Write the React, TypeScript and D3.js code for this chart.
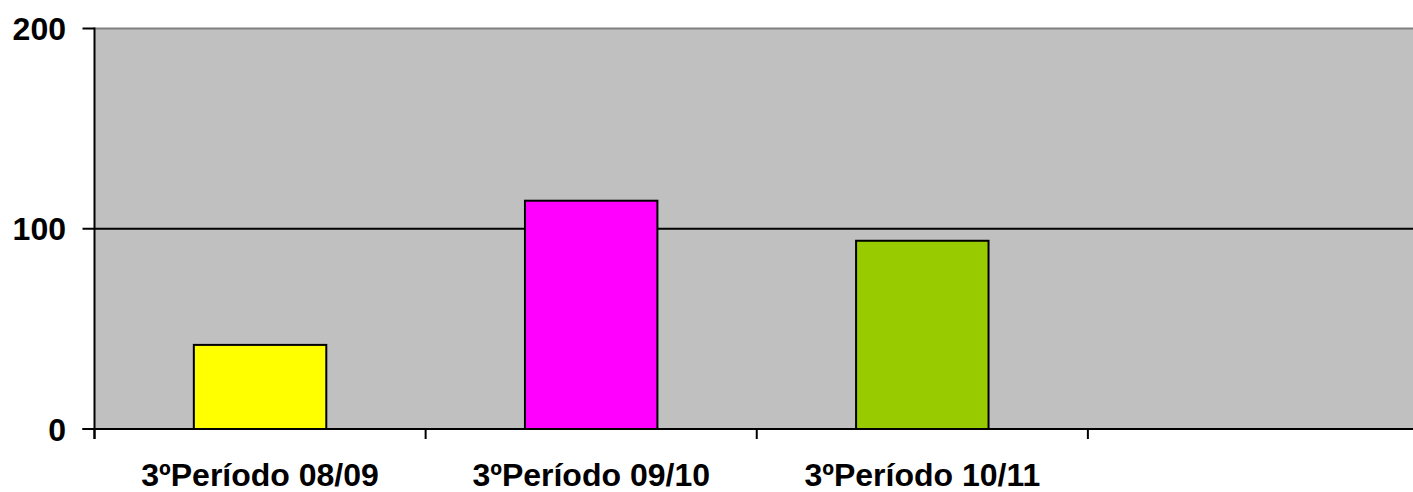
import React, { useEffect, useRef } from "react";
import * as d3 from "d3";

const categories = ["3ºPeríodo 08/09", "3ºPeríodo 09/10", "3ºPeríodo 10/11", ""];
const values = [42, 114, 94, null];
const barColors = ["#FFFF00", "#FF00FF", "#99CC00", "#000000"];
const yTicks = [0, 100, 200];

const width = 1413;
const height = 492;
const plot = { left: 94.5, top: 28.5, right: 1419, bottom: 429 };

const App = () => {
  const ref = useRef<SVGSVGElement>(null);

  useEffect(() => {
    const svg = d3.select(ref.current);
    svg.selectAll("*").remove();

    const x = d3
      .scaleBand()
      .domain(categories.map((c, i) => String(i)))
      .range([plot.left, plot.right])
      .paddingInner(0.6)
      .paddingOuter(0.3);
    const band = (plot.right - plot.left) / categories.length;
    const y = d3.scaleLinear().domain([0, 200]).range([plot.bottom, plot.top]);

    // plot area
    svg
      .append("rect")
      .attr("x", plot.left)
      .attr("y", plot.top)
      .attr("width", plot.right - plot.left)
      .attr("height", plot.bottom - plot.top)
      .attr("fill", "#C0C0C0");

    // gridlines
    svg
      .selectAll("line.grid")
      .data(yTicks.filter((t) => t > 0 && t < 200))
      .enter()
      .append("line")
      .attr("x1", plot.left)
      .attr("x2", plot.right)
      .attr("y1", (d) => y(d))
      .attr("y2", (d) => y(d))
      .attr("stroke", "#000")
      .attr("stroke-width", 2);

    // top border
    svg
      .append("line")
      .attr("x1", plot.left)
      .attr("x2", plot.right)
      .attr("y1", plot.top)
      .attr("y2", plot.top)
      .attr("stroke", "#808080")
      .attr("stroke-width", 2);

    // bars
    svg
      .selectAll("rect.bar")
      .data(values.map((v, i) => ({ v, i })).filter((d) => d.v != null))
      .enter()
      .append("rect")
      .attr("x", (d) => x(String(d.i))!)
      .attr("y", (d) => y(d.v as number))
      .attr("width", x.bandwidth())
      .attr("height", (d) => plot.bottom - y(d.v as number))
      .attr("fill", (d) => barColors[d.i])
      .attr("stroke", "#000")
      .attr("stroke-width", 2);

    // axes
    svg
      .append("line")
      .attr("x1", plot.left)
      .attr("x2", plot.left)
      .attr("y1", plot.top - 1)
      .attr("y2", plot.bottom + 10)
      .attr("stroke", "#000")
      .attr("stroke-width", 2);
    svg
      .append("line")
      .attr("x1", plot.left - 12)
      .attr("x2", plot.right)
      .attr("y1", plot.bottom)
      .attr("y2", plot.bottom)
      .attr("stroke", "#000")
      .attr("stroke-width", 2);

    // y ticks + labels
    svg
      .selectAll("line.ytick")
      .data(yTicks)
      .enter()
      .append("line")
      .attr("x1", plot.left - 12)
      .attr("x2", plot.left)
      .attr("y1", (d) => y(d))
      .attr("y2", (d) => y(d))
      .attr("stroke", "#000")
      .attr("stroke-width", 2);
    svg
      .selectAll("text.ylab")
      .data(yTicks)
      .enter()
      .append("text")
      .attr("x", 66)
      .attr("y", (d) => y(d))
      .attr("dy", "0.36em")
      .attr("text-anchor", "end")
      .attr("font-family", "Liberation Sans, Arial, sans-serif")
      .attr("font-weight", "bold")
      .attr("font-size", 32)
      .text((d) => d);

    // x ticks + labels
    svg
      .selectAll("line.xtick")
      .data(categories.map((c, i) => i))
      .enter()
      .append("line")
      .attr("x1", (i) => plot.left + i * band)
      .attr("x2", (i) => plot.left + i * band)
      .attr("y1", plot.bottom)
      .attr("y2", plot.bottom + 10)
      .attr("stroke", "#000")
      .attr("stroke-width", 2);
    svg
      .selectAll("text.xlab")
      .data(categories)
      .enter()
      .append("text")
      .attr("x", (d, i) => plot.left + i * band + band / 2)
      .attr("y", 486)
      .attr("text-anchor", "middle")
      .attr("font-family", "Liberation Sans, Arial, sans-serif")
      .attr("font-weight", "bold")
      .attr("font-size", 32)
      .text((d) => d);
  }, []);

  return (
    <svg
      ref={ref}
      width={width}
      height={height}
      style={{ position: "absolute", left: 0, top: 0, background: "#fff" }}
    />
  );
};

export default App;
